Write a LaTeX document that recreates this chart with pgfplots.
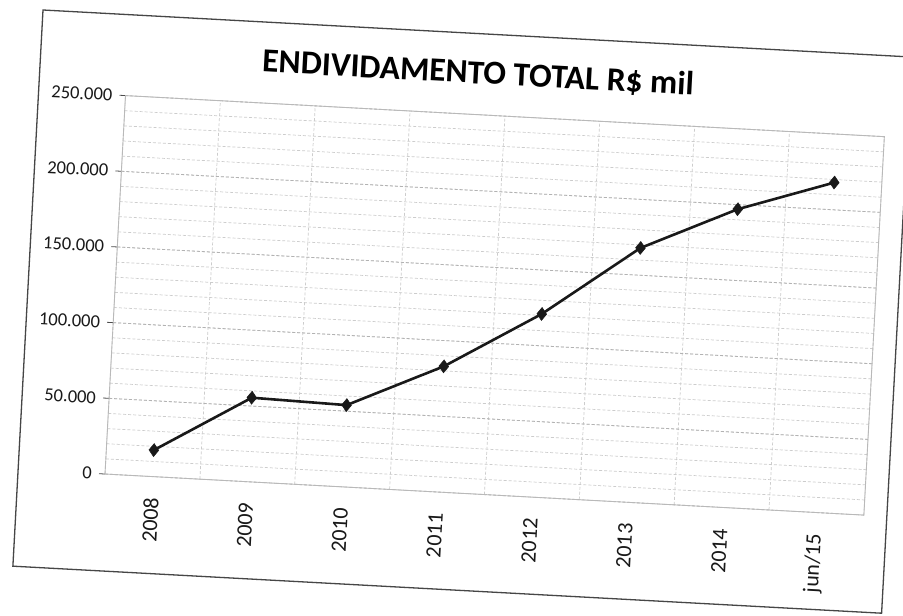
\documentclass[border=0pt]{standalone}
\usepackage{fontspec}
\setmainfont{Carlito}
\usepackage{pgfplots}
\pgfplotsset{compat=1.18}
\begin{document}
\begin{tikzpicture}
\path[use as bounding box] (0bp,0bp) rectangle (903bp,-616bp);
\fill[white] (0bp,0bp) rectangle (903bp,-616bp);
\begin{scope}[shift={(43bp,-10bp)}, rotate=-3.1, transform shape]
\draw[gray!55!black, line width=1.3bp] (0bp,0bp) rectangle (870bp,-557bp);
\node[font=\bfseries\fontsize{33.5bp}{36bp}\selectfont, text=black] at (438bp,-40bp) {ENDIVIDAMENTO TOTAL R\$ mil};
\begin{scope}[shift={(87bp,-460bp)}]
\begin{axis}[
  anchor=south west,
  scale only axis, width=760bp, height=379bp,
  xmin=-0.5, xmax=7.5, ymin=0, ymax=250000,
  xtick={0,...,7},
  xticklabels={2008,2009,2010,2011,2012,2013,2014,jun/15},
  minor xtick={-0.5,0.5,...,7.5},
  xminorgrids,
  ytick={0,50000,...,250000},
  minor ytick={10000,20000,...,240000},
  ymajorgrids, yminorgrids,
  ytick pos=left,
  scaled y ticks=false,
  /pgf/number format/.cd, fixed, 1000 sep={.}, assume math mode=true,
  /pgfplots/.cd,
  xtick style={draw=none},
  major tick length=6bp, minor tick length=0bp,
  tick align=outside,
  tick style={gray!60!black, line width=0.8bp},
  axis line style={gray!55, line width=0.9bp},
  major grid style={gray!60, line width=0.8bp, densely dashed},
  minor grid style={gray!40, line width=0.7bp, densely dashed},
  yticklabel style={font=\fontsize{18.5bp}{20bp}\selectfont, text=black!90, inner xsep=0pt},
  xticklabel style={rotate=90, anchor=east, font=\fontsize{22bp}{24bp}\selectfont, text=black!90, inner sep=0pt},
  yticklabel shift=7bp,
  xticklabel shift=15bp,
]
\addplot[black!90, line width=2.6bp, mark=diamond*, mark size=6.5bp, mark options={solid, fill=black!90, line width=0.5bp}]
  coordinates {(0,17500)(1,55500)(2,54000)(3,83000)(4,121000)(5,168000)(6,197000)(7,218000)};
\end{axis}
\end{scope}
\end{scope}
\end{tikzpicture}
\end{document}
